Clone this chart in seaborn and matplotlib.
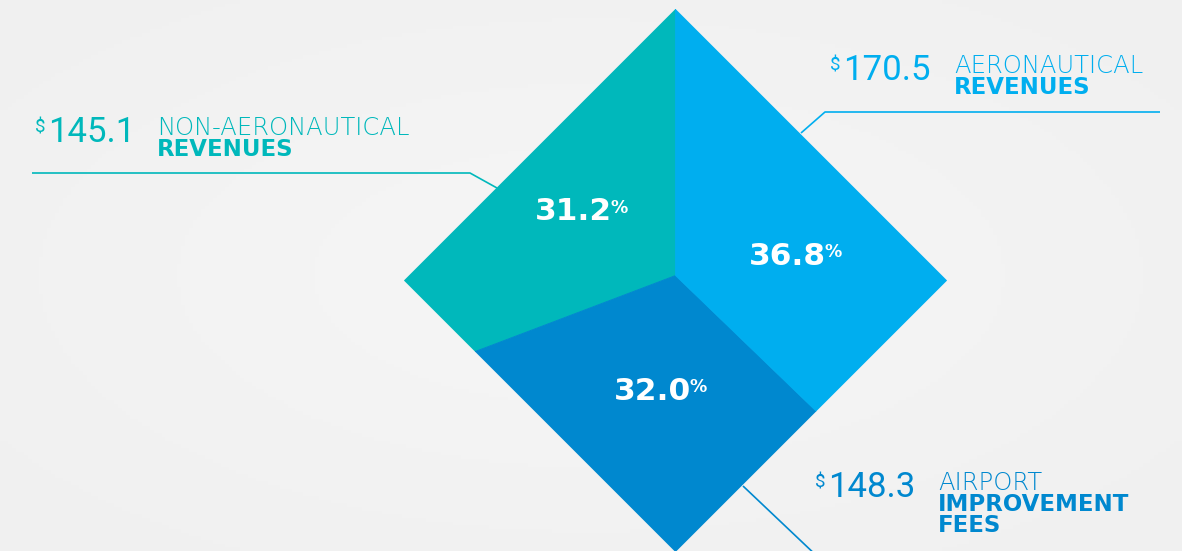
import numpy as np
import matplotlib
matplotlib.use("Agg")
import matplotlib.pyplot as plt
import seaborn as sns

# revenue mix, $ millions, listed counter-clockwise from the top corner
names_light = ["NON-AERONAUTICAL", "AIRPORT", "AERONAUTICAL"]
names_bold = ["REVENUES", "IMPROVEMENT\nFEES", "REVENUES"]
amounts = [145.1, 148.3, 170.5]
shares = [31.2, 32.0, 36.8]
colors = ["#00B8BB", "#0088CF", "#00AEEF"]

sns.set_theme(style="white")
plt.rcParams["font.family"] = ["DejaVu Sans"]

W, H = 1182, 551
fig = plt.figure(figsize=(W / 100, H / 100), dpi=100)
ax = fig.add_axes([0, 0, 1, 1])
ax.set_xlim(0, W)
ax.set_ylim(H, 0)
ax.axis("off")

# soft radial background
gx, gy = np.meshgrid(np.linspace(-1, 1, 300), np.linspace(-1, 1, 150))
glow = np.clip(np.hypot(gx, gy) / 1.4, 0, 1)
ax.imshow(glow, cmap=sns.blend_palette(["#F6F6F6", "#F0F0F0"], as_cmap=True),
          extent=(0, W, H, 0), aspect="auto", zorder=0, vmin=0, vmax=1)

# diamond outline and the point where the three slices meet
cx, cy, R = 675.5, 280.5, 271
jx, jy = cx, cy - 5
corners = np.array([[cx, cy - R], [cx - R, cy], [cx, cy + R], [cx + R, cy], [cx, cy - R]])
t = np.linspace(0, 1, 401)[:-1]
outline = np.vstack([a + (b - a) * t[:, None] for a, b in zip(corners[:-1], corners[1:])] + [corners[-1:]])

# cumulative area swept from the meeting point, so slice areas follow the shares
d = outline - [jx, jy]
tri = np.abs(d[:-1, 0] * d[1:, 1] - d[1:, 0] * d[:-1, 1]) / 2
cum = np.concatenate([[0], np.cumsum(tri)])
cum /= cum[-1]
bounds = np.concatenate([[0], np.cumsum(shares)]) / np.sum(shares)

for i, c in enumerate(colors):
    f0, f1 = bounds[i], bounds[i + 1]
    inside = (cum > f0) & (cum < f1)
    xs = [jx, np.interp(f0, cum, outline[:, 0]), *outline[inside, 0], np.interp(f1, cum, outline[:, 0])]
    ys = [jy, np.interp(f0, cum, outline[:, 1]), *outline[inside, 1], np.interp(f1, cum, outline[:, 1])]
    ax.fill(xs, ys, color=c, lw=0.6, ec=c, zorder=2)

# percentage labels inside slices
pct_pos = [(573, 220.5), (652, 400), (787, 265)]
for (x, y), s in zip(pct_pos, shares):
    num = ax.text(x, y, f"{s:.1f}", color="white", fontsize=22.5, fontweight="bold",
                  ha="center", va="baseline", zorder=3)
    ax.annotate("%", xy=(1, 1), xycoords=num, xytext=(-1, -1), textcoords="offset points",
                color="white", fontsize=12.5, fontweight="bold", ha="left", va="top", zorder=3)

# callouts: amount, name, and leader line
callouts = [
    dict(num_x=48, base=142, name_x=157, lines=[(32, 173), (470, 173), (497, 188)]),
    dict(num_x=828, base=497, name_x=938, lines=[(743, 486), (820, 559)]),
    dict(num_x=843, base=80, name_x=954, lines=[(801, 133), (825, 112), (1160, 112)]),
]
for k, co in enumerate(callouts):
    c = colors[k]
    num = ax.text(co["num_x"], co["base"], f"{amounts[k]:.1f}", color=c, fontsize=25,
                  family="Roboto", fontweight="normal", ha="left", va="baseline")
    ax.annotate("$", xy=(0, 1), xycoords=num, xytext=(-2, -2), textcoords="offset points",
                color=c, fontsize=13.5, family="Roboto", fontweight="normal", ha="right", va="top")
    top_base = co["base"] - 7
    ax.text(co["name_x"], top_base, names_light[k], color=c, fontsize=17.5,
            fontweight="light", ha="left", va="baseline")
    # multi-line text: baseline alignment refers to the last line
    n_lines = names_bold[k].count("\n")
    ax.text(co["name_x"], top_base + 21 + 20.5 * n_lines, names_bold[k], color=c, fontsize=16.5,
            fontweight="bold", ha="left", va="baseline", linespacing=0.88)
    px, py = zip(*co["lines"])
    ax.plot(px, py, color=c, lw=1.2, zorder=1, solid_capstyle="butt")

fig.savefig("out.png", dpi=100)
